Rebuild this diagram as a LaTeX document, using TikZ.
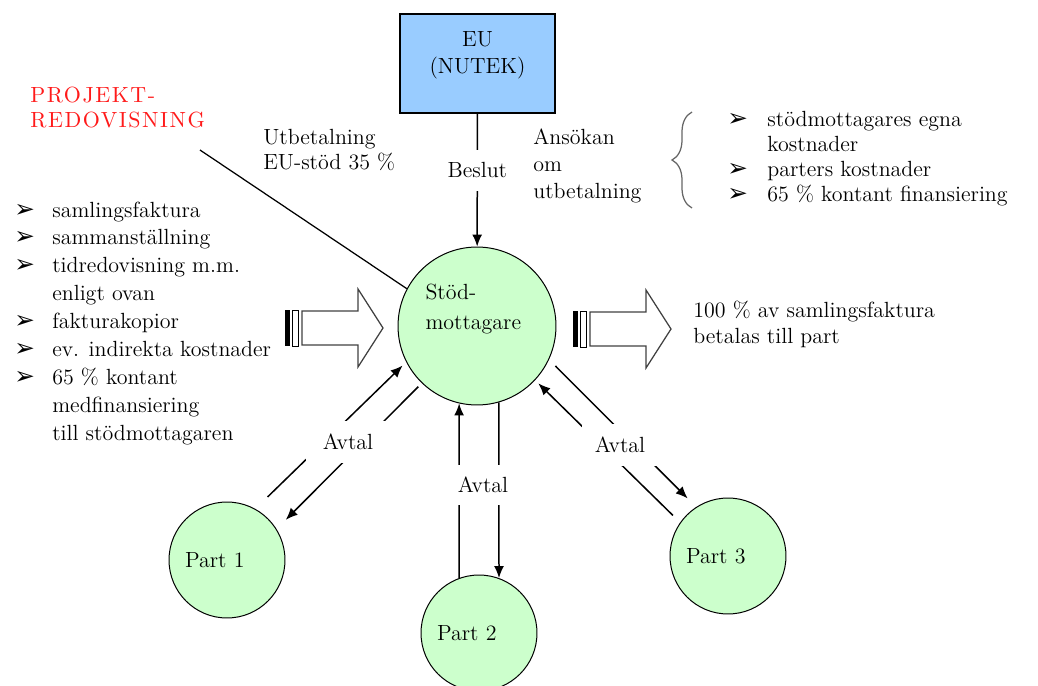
\documentclass[tikz,border=0pt]{standalone}
\usepackage{fontspec}
\newfontfamily\dejavu{DejaVu Sans}
\newfontfamily\projfont{lmroman10-regular.otf}[LetterSpace=7]
\usetikzlibrary{arrows.meta,decorations.pathreplacing}
\definecolor{eublue}{HTML}{99CCFF}
\definecolor{partgreen}{HTML}{CCFFCC}
\definecolor{projred}{HTML}{FF1A1A}
\def\pil{{\dejavu\fontsize{14}{14}\selectfont\char"27A2}}
\def\bulL{\makebox[21.6pt][l]{\pil}}
\def\bulR{\makebox[22.8pt][l]{\pil}}
\def\stripedarrow(#1,#2){%
	\begin{scope}[shift={(#1,#2)}]
		\fill (0,-18) rectangle (5,18);
		\draw[line width=0.2mm] (7,-18) rectangle (13,18);
		\draw[line width=0.25mm, draw=black!75] (17,-17) -- (73,-17) -- (73,-39) -- (98,0) -- (73,39) -- (73,17) -- (17,17) -- cycle;
	\end{scope}}
\tikzset{
	eubox/.style={draw, line width=0.4mm, fill=eublue, minimum width=31mm, minimum height=19.8mm, text width=30mm, align=center, text depth=10mm, inner sep=0pt, font=\fontsize{12.5}{15.6}\selectfont},
	mainnode/.style={circle, draw, line width=0.2mm, fill=partgreen, minimum size=31.6mm, text width=20.6mm, align=left, text depth=13.8mm, inner sep=0pt, font=\fontsize{12.5}{17}\selectfont},
	partnode/.style={circle, draw, line width=0.2mm, fill=partgreen, minimum size=23.2mm, text width=16.8mm, align=left, inner sep=0pt},
	gaplabel/.style={fill=white, inner xsep=1mm, inner ysep=2.5mm},
	textblock/.style={anchor=base west, inner sep=0pt},
	connector/.style={line width=0.3mm}
}

\begin{document}
\begin{tikzpicture}[x=0.02cm, y=-0.02cm, font=\fontsize{12.5}{15.9}\selectfont, >={Latex[length=2.4mm,width=2mm]}]
			%%%%% START %%%%%
			\useasboundingbox (0,0) rectangle (1038,686);
			
			\node[eubox] (eu) at (477.5,63.5) {EU\\(NUTEK)};
			\node[mainnode] (main) at (477,326) {Stöd-\\mottagare};
			
			\node[partnode] (part1) at (227,560) {Part 1};
			\node[partnode] (part2) at (479,633) {Part 2};
			\node[partnode] (part3) at (728,556) {Part 3};
			
			\node[textblock, text=projred, font=\projfont\fontsize{12.5}{14.2}\selectfont] (proj) at (30,103) {\begin{tabular}[t]{@{}l@{}}PROJEKT-\\REDOVISNING\end{tabular}};
			\coordinate (projfoot) at (200,150);
			\draw[line width=0.25mm] (projfoot) -- (main.152);
			
			\node[textblock, font=\fontsize{12.5}{14.2}\selectfont] (utbet) at (263,145) {\begin{tabular}[t]{@{}l@{}}Utbetalning\\EU-stöd 35 \%\end{tabular}};
			\node[textblock, font=\fontsize{12.5}{15.1}\selectfont] (ansokan) at (533,145) {\begin{tabular}[t]{@{}l@{}}Ansökan\\om\\utbetalning\end{tabular}};
			
			\draw[decorate, decoration={brace, amplitude=4mm}, black!60, line width=0.25mm] (692,208) -- (692,112);
			\node[textblock, font=\fontsize{12.5}{14.2}\selectfont] (costlist) at (727,127) {\begin{tabular}[t]{@{}l@{}l@{}}
				\bulR & stödmottagares egna\\
				 & kostnader\\
				\bulR & parters kostnader\\
				\bulR & 65 \% kontant finansiering
			\end{tabular}};
			
			\node[textblock] (doclist) at (14,217) {\begin{tabular}[t]{@{}l@{}l@{}}
				\bulL & samlingsfaktura\\
				\bulL & sammanställning\\
				\bulL & tidredovisning m.m.\\
				 & enligt ovan\\
				\bulL & fakturakopior\\
				\bulL & ev. indirekta kostnader\\
				\bulL & 65 \% kontant\\
				 & medfinansiering\\
				 & till stödmottagaren
			\end{tabular}};
			
			\stripedarrow(285,328)
			\stripedarrow(573,329)
			\node[textblock, font=\fontsize{12.5}{15.1}\selectfont] (payout) at (693,317) {\begin{tabular}[t]{@{}l@{}}100 \% av samlingsfaktura\\betalas till part\end{tabular}};
			
			\draw[connector,->] (eu) -- node[gaplabel, pos=0.425] (beslut) {Beslut} (main);
			
			\draw[connector,->, shorten <=3.4mm, shorten >=1mm] (part1.61) -- (main.207);
			\draw[connector,->, shorten <=1mm, shorten >=2.6mm] (main.226) -- (part1.32);
			\draw[connector,->] (part2.110) -- (main.257);
			\draw[connector,->] (main.286) -- (part2.70);
			\draw[connector,->, shorten <=2mm, shorten >=0.9mm] (part3.145) -- (main.317);
			\draw[connector,->, shorten <=1.8mm, shorten >=2.4mm] (main.335) -- (part3.123);
			
			\node[gaplabel, inner xsep=3.4mm, inner ysep=2.6mm] (avtal1) at (348,442) {Avtal};
			\node[gaplabel, inner ysep=2.5mm] (avtal2) at (483,485) {Avtal};
			\node[gaplabel, inner xsep=2.6mm, inner ysep=2.7mm] (avtal3) at (620,445) {Avtal};
			
			%%%%% END %%%%%
\end{tikzpicture}
\end{document}
